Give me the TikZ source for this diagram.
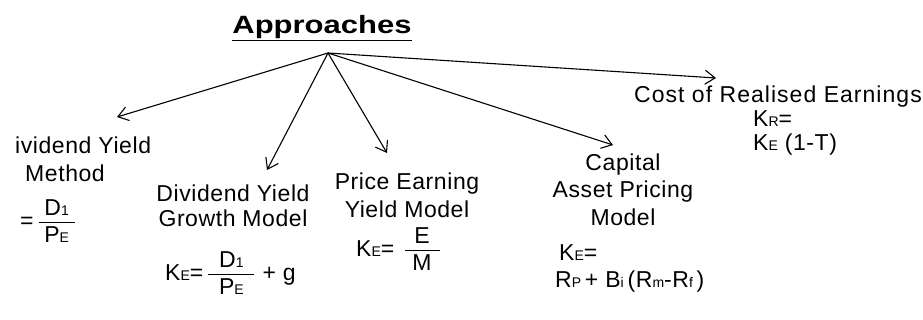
\documentclass[tikz,border=0pt]{standalone}
\usepackage{fontspec}
\setmainfont{Liberation Sans}[LetterSpace=2.5]
\newfontfamily\titlefont{Liberation Sans}[FakeStretch=1.24]
\usetikzlibrary{
		arrows.meta,
		positioning
	}
\tikzset{
		>={Straight Barb[length=10pt,width=14pt]}
	}
\tikzset{
		txt/.style={inner sep=0pt, font=\fontsize{23}{28}\selectfont},
		branch/.style={->, line width=1.1pt}
	}
\newcommand{\lowsub}[1]{{\fontsize{14}{14}\selectfont #1}}
\newcommand{\ratio}[3]{$\frac{\raisebox{3pt}[\height][\depth]{\makebox[#1]{#2}}}{\raisebox{-4pt}[\height][\depth]{\makebox[#1]{#3}}}$}

\begin{document}
\begin{tikzpicture}[x=1pt, y=-1pt]
		\useasboundingbox (0,0) rectangle (923,320);
		\node[inner sep=0pt, anchor=north, font=\titlefont\bfseries\fontsize{25}{25}\selectfont] (title) at (322,15) {\underline{Approaches}};
		\coordinate (apex) at (328,53);
		% arrow ends
		\coordinate (tipdiv) at (117,117); \coordinate (tipgrowth) at (267,170); \coordinate (tipprice) at (387,153);
		\coordinate (tipcapm) at (613,145); \coordinate (tipcost) at (716,78);
		\draw[branch] (apex) -- (tipdiv); \draw[branch] (apex) -- (tipgrowth); \draw[branch] (apex) -- (tipprice);
		\draw[branch] (apex) -- (tipcapm); \draw[branch] (apex) -- (tipcost);
		% dividend yield method
		\node[txt, anchor=north west] (divtop) at (15,136.5) {ividend Yield};
		\node[txt, anchor=north] (divname) at (65,164.5) {Method};
		\node[txt, anchor=west] (divform) at (20,221) {=\,\ratio{36pt}{D\lowsub{1}}{P\lowsub{E}}};
		% growth model
		\node[txt, align=center, anchor=north, font=\fontsize{23}{25}\selectfont] (growthhead) at (233,184.5) {Dividend Yield\\Growth Model};
		\node[txt, anchor=west] (growthform) at (165,273) {K\lowsub{E}=\,\ratio{46pt}{D\lowsub{1}}{P\lowsub{E}} + g};
		% price earning
		\node[txt, align=center, anchor=north] (pricehead) at (407,172.5) {Price Earning\\Yield Model};
		\node[txt, anchor=west] (priceform) at (356,249) {K\lowsub{E}=\hspace{9pt}\ratio{35pt}{E}{M}};
		% capm
		\node[txt, align=center, anchor=north, font=\fontsize{23}{27.5}\selectfont] (capmhead) at (623,153.5) {Capital\\Asset Pricing\\Model};
		\node[txt, align=left, anchor=north west, font=\fontsize{23}{27}\selectfont] (capmform) at (555,244.5) {\hspace*{4pt}K\lowsub{E}=\\R\lowsub{P}\,+ B\lowsub{i}\,(R\lowsub{m}-R\lowsub{f}\,)};
		% realised earnings
		\node[txt, anchor=north, font=\fontsize{23}{28}\selectfont\addfontfeature{LetterSpace=4.5}] (costhead) at (778,86) {Cost of Realised Earnings};
		\node[txt, align=left, anchor=north west, font=\fontsize{23}{24}\selectfont] (costform) at (753,110.5) {K\lowsub{R}=\\K\lowsub{E} (1-T)};
	\end{tikzpicture}
\end{document}
